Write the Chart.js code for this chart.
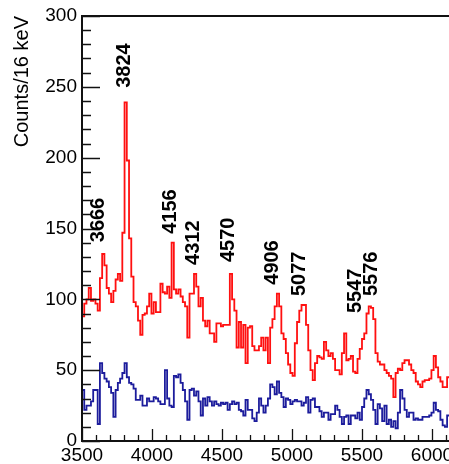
<!DOCTYPE html>
<html>
<head>
<meta charset="utf-8">
<script src="https://cdn.jsdelivr.net/npm/chart.js@4.4.0/dist/chart.umd.min.js"></script>
<style>
  html, body { margin: 0; padding: 0; background: #fff; overflow: hidden; }
  #wrap { width: 449px; height: 464px; overflow: hidden; }
  canvas { display: block; }
</style>
</head>
<body>
<div id="wrap"><canvas id="spectrum" width="480" height="464"></canvas></div>
<script>
// gamma spectrum, 16 keV bins starting at 3500 keV
const binStart = 3500;
const binWidth = 16;

// red spectrum (counts per bin)
const redCounts = [
  88, 97, 100, 108, 99, 100, 97, 92, 115, 132,
  124, 108, 104, 98, 106, 114, 118, 113, 147, 239,
  198, 143, 116, 98, 95, 85, 75, 89, 90, 95,
  104, 90, 98, 91, 91, 111, 105, 104, 109, 101,
  140, 107, 104, 107, 102, 98, 95, 73, 104, 104,
  118, 109, 95, 101, 85, 81, 85, 76, 76, 70,
  83, 83, 81, 82, 82, 82, 118, 100, 92, 66,
  84, 66, 82, 55, 80, 81, 67, 64, 64, 67,
  73, 64, 73, 55, 80, 86, 95, 104, 95, 76,
  72, 62, 54, 48, 46, 69, 84, 92, 96, 96,
  82, 64, 50, 43, 55, 60, 59, 58, 70, 64,
  60, 62, 58, 50, 50, 47, 62, 76, 57, 58,
  60, 49, 48, 58, 65, 72, 76, 90, 95, 94,
  86, 62, 56, 54, 54, 50, 48, 46, 44, 31,
  48, 51, 50, 55, 57, 57, 54, 50, 48, 42,
  40, 38, 42, 43, 43, 44, 50, 60, 52, 45,
  42, 38, 38, 45
];

// blue spectrum (counts per bin)
const blueCounts = [
  36, 22, 25, 25, 28, 36, 36, 12, 55, 48,
  44, 42, 38, 34, 17, 36, 41, 44, 48, 55,
  45, 41, 40, 37, 29, 29, 32, 25, 25, 30,
  28, 28, 31, 30, 28, 26, 26, 50, 30, 25,
  24, 46, 45, 47, 41, 36, 28, 15, 36, 37,
  32, 35, 28, 18, 30, 25, 31, 28, 25, 28,
  26, 25, 27, 26, 27, 22, 26, 28, 26, 27,
  22, 21, 18, 29, 22, 22, 16, 14, 20, 30,
  25, 20, 25, 30, 40, 38, 33, 42, 34, 31,
  24, 30, 29, 26, 28, 29, 28, 28, 25, 27,
  31, 20, 29, 30, 24, 24, 21, 17, 20, 20,
  15, 19, 19, 25, 22, 17, 12, 17, 18, 12,
  18, 18, 16, 20, 15, 24, 30, 36, 33, 29,
  22, 12, 26, 23, 14, 25, 12, 15, 10, 14,
  9, 20, 36, 30, 22, 17, 20, 20, 15, 16,
  15, 15, 17, 17, 17, 18, 20, 27, 22, 21,
  15, 11, 10, 18
];

// axis tick labels
const xTicks = [3500, 4000, 4500, 5000, 5500, 6000];
const yTicks = [0, 50, 100, 150, 200, 250, 300];

// peak labels and where each one sits (keV, counts)
const peakLabels = ["3666", "3824", "4156", "4312", "4570", "4906", "5077", "5547", "5576"];
const labelEnergy = [3621, 3804, 4129, 4296, 4543, 4861, 5050, 5450, 5571];
const labelCounts = [156, 265, 162, 140, 142, 126, 118, 106, 118];

const xMin = 3500;
const xMax = 6343;   // frame runs past the visible window
const yMax = 300;

const FONT = "'Liberation Sans', Arial, Helvetica, sans-serif";

// histogram as step line: one point per bin low edge + closing edge
function toSteps(counts) {
  const pts = counts.map((c, i) => ({ x: binStart + i * binWidth, y: c }));
  pts.push({ x: binStart + counts.length * binWidth, y: counts[counts.length - 1] });
  return pts;
}

// ROOT style frame with inward ticks
const frameTicks = {
  id: "frameTicks",
  afterDatasetsDraw(chart) {
    const { ctx, chartArea: a, scales: { x, y } } = chart;
    ctx.save();
    ctx.strokeStyle = "#111";
    ctx.lineWidth = 1.3;
    ctx.beginPath();
    for (let v = 0; v <= yMax; v += 10) {
      const py = Math.round(y.getPixelForValue(v)) + 0.5;
      const len = v % 50 === 0 ? 18 : 9;
      ctx.moveTo(a.left, py);
      ctx.lineTo(a.left + len, py);
    }
    for (let e = xMin; e <= x.max; e += 100) {
      const px = Math.round(x.getPixelForValue(e)) + 0.5;
      const len = e % 500 === 0 ? 12 : 6;
      ctx.moveTo(px, a.bottom);
      ctx.lineTo(px, a.bottom - len);
    }
    ctx.stroke();
    ctx.lineWidth = 2;
    ctx.strokeRect(a.left, a.top, a.right - a.left, a.bottom - a.top);
    ctx.restore();
  }
};

// rotated peak energy labels
const peakText = {
  id: "peakText",
  afterDatasetsDraw(chart) {
    const { ctx, scales: { x, y } } = chart;
    ctx.save();
    ctx.fillStyle = "#000";
    ctx.font = "bold 20px " + FONT;
    ctx.textAlign = "center";
    ctx.textBaseline = "middle";
    peakLabels.forEach((txt, i) => {
      ctx.save();
      ctx.translate(x.getPixelForValue(labelEnergy[i]), y.getPixelForValue(labelCounts[i]));
      ctx.rotate(-Math.PI / 2);
      ctx.fillText(txt, 0, 0);
      ctx.restore();
    });
    ctx.restore();
  }
};

const ctx = document.getElementById("spectrum").getContext("2d");
new Chart(ctx, {
  type: "line",
  data: {
    datasets: [
      {
        label: "red",
        data: toSteps(redCounts),
        stepped: "before",
        borderColor: "#ff1010",
        borderWidth: 1.8,
        pointRadius: 0,
        fill: false
      },
      {
        label: "blue",
        data: toSteps(blueCounts),
        stepped: "before",
        borderColor: "#1c1c9c",
        borderWidth: 1.8,
        pointRadius: 0,
        fill: false
      }
    ]
  },
  options: {
    responsive: false,
    animation: false,
    layout: { padding: { top: 16, right: 0, left: 0, bottom: 0 } },
    plugins: {
      legend: { display: false },
      tooltip: { enabled: false }
    },
    scales: {
      x: {
        type: "linear",
        min: xMin,
        max: xMax,
        grid: { display: false, drawTicks: false },
        border: { display: false },
        ticks: {
          maxRotation: 0,
          autoSkip: false,
          padding: 3,
          color: "#000",
          font: { family: FONT, size: 19 },
          callback: (v) => String(v)
        },
        afterBuildTicks(scale) { scale.ticks = xTicks.map((v) => ({ value: v })); },
        afterFit(scale) {
          scale.height = 23;
          scale.paddingLeft = 0;
          scale.paddingRight = 0;
        }
      },
      y: {
        type: "linear",
        min: 0,
        max: yMax,
        grid: { display: false, drawTicks: false },
        border: { display: false },
        ticks: {
          padding: 5,
          color: "#000",
          font: { family: FONT, size: 19 },
          callback: (v) => String(v)
        },
        afterBuildTicks(scale) { scale.ticks = yTicks.map((v) => ({ value: v })); },
        title: {
          display: true,
          text: "Counts/16 keV",
          align: "end",
          color: "#000",
          font: { family: FONT, size: 20 },
          padding: { top: 10, bottom: 0 }
        },
        afterFit(scale) {
          scale.width = 82;
          scale.paddingTop = 0;
          scale.paddingBottom = 0;
        }
      }
    }
  },
  plugins: [frameTicks, peakText]
});
</script>
</body>
</html>
